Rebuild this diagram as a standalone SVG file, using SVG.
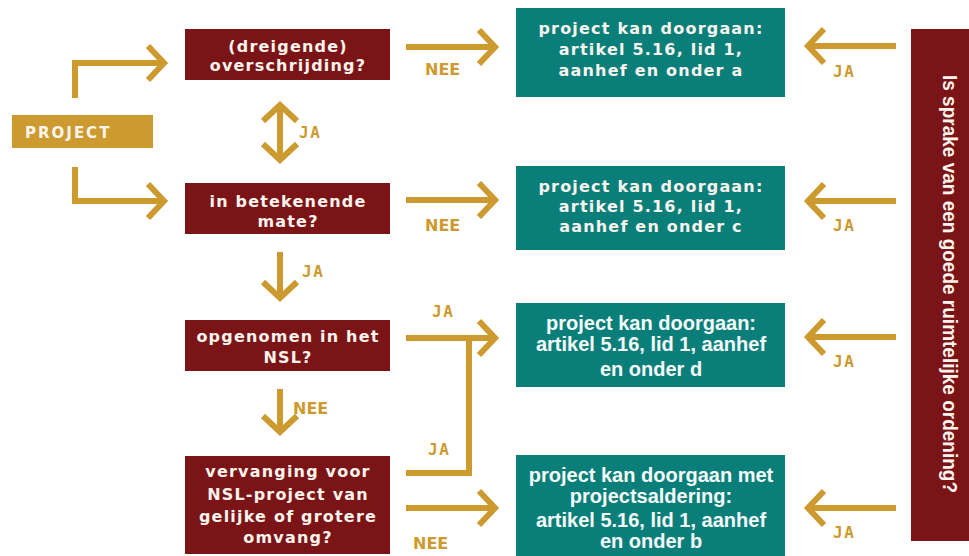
<svg xmlns="http://www.w3.org/2000/svg" width="969" height="556" viewBox="0 0 969 556">
<style>
.bg{fill:#ffffff}
.red{fill:#7b1416}
.teal{fill:#0a7f7a}
.gold{fill:#cc9a2e}
.rt{font-family:"DejaVu Sans",Verdana,sans-serif;font-weight:bold;font-size:16px;letter-spacing:1.2px;fill:#fbf4ee;text-anchor:middle}
.tt{font-family:"Liberation Sans",Arial,sans-serif;font-weight:bold;font-size:20px;fill:#f6fbfa;text-anchor:middle}
.pj{font-family:"DejaVu Sans",Verdana,sans-serif;font-weight:bold;font-size:15px;letter-spacing:2px;fill:#fbf4ee}
.ja{font-family:"DejaVu Sans Mono",monospace;font-weight:bold;font-size:16px;letter-spacing:1.5px;fill:#cc9a2e}
.nee{font-family:"DejaVu Sans",Verdana,sans-serif;font-weight:bold;font-size:16px;fill:#cc9a2e}
.vt{font-family:"Liberation Sans",Arial,sans-serif;font-weight:bold;font-size:20px;fill:#fbf4ee;text-anchor:middle}
.c{fill:none;stroke:#cc9a2e;stroke-width:6;stroke-linejoin:miter}
</style>
<defs>
<marker id="ah" viewBox="-24 -24 48 48" refX="0" refY="0" markerWidth="48" markerHeight="48" markerUnits="userSpaceOnUse" orient="auto-start-reverse">
<path d="M-16,-17 L0,0 L-16,17" fill="none" stroke="#cc9a2e" stroke-width="6" stroke-linejoin="miter"/>
</marker>
</defs>
<rect class="bg" x="0" y="0" width="969" height="556"/>

<g id="connectors">
<path class="c" d="M75,98 V63 H164" marker-end="url(#ah)"/>
<path class="c" d="M75,167 V201 H164" marker-end="url(#ah)"/>
<path class="c" d="M280,105 V160" marker-start="url(#ah)" marker-end="url(#ah)"/>
<path class="c" d="M280,252 V298" marker-end="url(#ah)"/>
<path class="c" d="M280,389 V432" marker-end="url(#ah)"/>
<path class="c" d="M406,47 H495" marker-end="url(#ah)"/>
<path class="c" d="M406,200 H495" marker-end="url(#ah)"/>
<path class="c" d="M406,338 H495" marker-end="url(#ah)"/>
<path class="c" d="M406,473 H469 V338"/>
<path class="c" d="M406,508 H495" marker-end="url(#ah)"/>
<path class="c" d="M896,46 H808" marker-end="url(#ah)"/>
<path class="c" d="M896,201 H808" marker-end="url(#ah)"/>
<path class="c" d="M896,337 H808" marker-end="url(#ah)"/>
<path class="c" d="M896,508 H808" marker-end="url(#ah)"/>
<text class="ja" x="299" y="138">JA</text>
<text class="ja" x="302" y="277">JA</text>
<text class="nee" x="293" y="414">NEE</text>
<text class="nee" x="425" y="75">NEE</text>
<text class="nee" x="425" y="231">NEE</text>
<text class="ja" x="432" y="317">JA</text>
<text class="ja" x="428" y="455">JA</text>
<text class="nee" x="413" y="549">NEE</text>
<text class="ja" x="833" y="77">JA</text>
<text class="ja" x="833" y="231">JA</text>
<text class="ja" x="833" y="367">JA</text>
<text class="ja" x="833" y="538">JA</text>
</g>

<g id="project">
<rect class="gold" x="12" y="115" width="141" height="33"/>
<text class="pj" x="25" y="138">PROJECT</text>
</g>

<g id="q1">
<rect class="red" x="185" y="29" width="205" height="51"/>
<text class="rt" x="288" y="52">(dreigende)</text>
<text class="rt" x="288" y="71">overschrijding?</text>
</g>

<g id="q2">
<rect class="red" x="185" y="183" width="205" height="51"/>
<text class="rt" x="288" y="207">in betekenende</text>
<text class="rt" x="288" y="227">mate?</text>
</g>

<g id="q3">
<rect class="red" x="185" y="320" width="205" height="51"/>
<text class="rt" x="288" y="342">opgenomen in het</text>
<text class="rt" x="288" y="363">NSL?</text>
</g>

<g id="q4">
<rect class="red" x="185" y="456" width="205" height="98"/>
<text class="rt" x="288" y="477">vervanging voor</text>
<text class="rt" x="288" y="500">NSL-project van</text>
<text class="rt" x="288" y="522">gelijke of grotere</text>
<text class="rt" x="288" y="543">omvang?</text>
</g>

<g id="r1">
<rect class="teal" x="516" y="8" width="269" height="89"/>
<text class="rt" x="651" y="34">project kan doorgaan:</text>
<text class="rt" x="651" y="55">artikel 5.16, lid 1,</text>
<text class="rt" x="651" y="76">aanhef en onder a</text>
</g>

<g id="r2">
<rect class="teal" x="516" y="166" width="269" height="84"/>
<text class="rt" x="651" y="192">project kan doorgaan:</text>
<text class="rt" x="651" y="212">artikel 5.16, lid 1,</text>
<text class="rt" x="651" y="232">aanhef en onder c</text>
</g>

<g id="r3">
<rect class="teal" x="516" y="303" width="269" height="84"/>
<text class="tt" x="651" y="330">project kan doorgaan:</text>
<text class="tt" x="651" y="351">artikel 5.16, lid 1, aanhef</text>
<text class="tt" x="651" y="376">en onder d</text>
</g>

<g id="r4">
<rect class="teal" x="516" y="455" width="269" height="101"/>
<text class="tt" x="651" y="482">project kan doorgaan met</text>
<text class="tt" x="651" y="503">projectsaldering:</text>
<text class="tt" x="651" y="527">artikel 5.16, lid 1, aanhef</text>
<text class="tt" x="651" y="548">en onder b</text>
</g>

<g id="rq">
<rect class="red" x="911" y="29" width="58" height="512"/>
<text class="vt" transform="translate(943,284) rotate(90)" x="0" y="0" textLength="418" lengthAdjust="spacingAndGlyphs">Is sprake van een goede ruimtelijke ordening?</text>
</g>
</svg>
